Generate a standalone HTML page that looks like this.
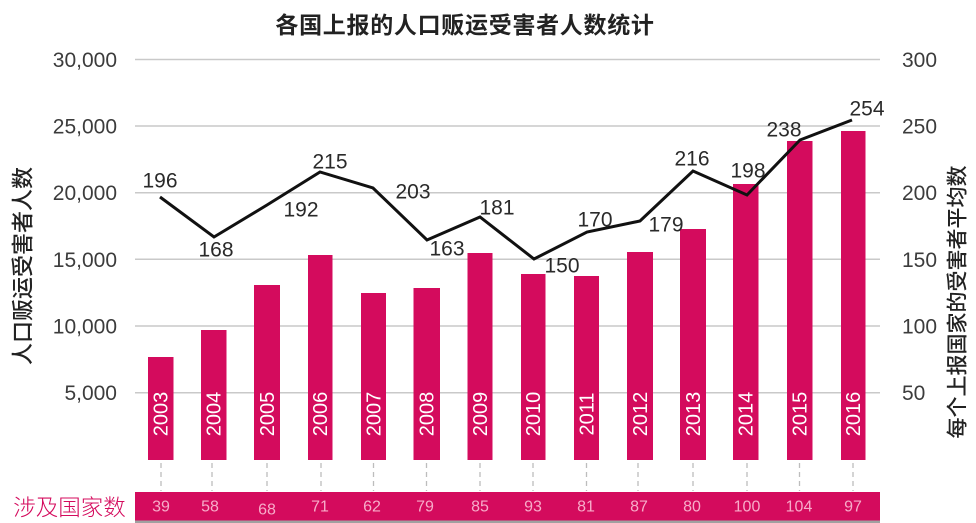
<!DOCTYPE html>
<html>
<head>
<meta charset="utf-8">
<style>
  html,body{margin:0;padding:0;background:#fff;}
  svg{display:block;}
  .tick{font-family:"Liberation Sans","DejaVu Sans",sans-serif;font-size:21px;fill:#3c3c3c;}
  .dl{font-family:"Liberation Sans","DejaVu Sans",sans-serif;font-size:21px;fill:#2a2a2a;}
  .yr{font-family:"Liberation Sans","DejaVu Sans",sans-serif;font-size:20px;fill:#ffffff;}
  .bn{font-family:"Liberation Sans","DejaVu Sans",sans-serif;font-size:16px;fill:#f7acc9;}
  .cjk{font-family:"Liberation Sans","Noto Sans CJK SC","WenQuanYi Zen Hei",sans-serif;}
</style>
</head>
<body>
<svg width="976" height="523" viewBox="0 0 976 523" xmlns="http://www.w3.org/2000/svg">
  <rect x="0" y="0" width="976" height="523" fill="#ffffff"/>
  <!-- title -->
  <text class="cjk" x="465" y="25" text-anchor="middle" dominant-baseline="central" font-size="23" font-weight="bold" letter-spacing="0.7" fill="#222">各国上报的人口贩运受害者人数统计</text>

  <!-- gridlines -->
  <g stroke="#c9c9c9" stroke-width="1.5">
    <line x1="135" y1="59.5" x2="880" y2="59.5"/>
    <line x1="135" y1="126" x2="880" y2="126"/>
    <line x1="135" y1="192.7" x2="880" y2="192.7"/>
    <line x1="135" y1="259.3" x2="880" y2="259.3"/>
    <line x1="135" y1="326" x2="880" y2="326"/>
    <line x1="135" y1="392.7" x2="880" y2="392.7"/>
  </g>

  <!-- left tick labels -->
  <g class="tick" text-anchor="end">
    <text x="117" y="67">30,000</text>
    <text x="117" y="133.5">25,000</text>
    <text x="117" y="200.2">20,000</text>
    <text x="117" y="266.8">15,000</text>
    <text x="117" y="333.5">10,000</text>
    <text x="117" y="400.2">5,000</text>
  </g>
  <!-- right tick labels -->
  <g class="tick" text-anchor="start">
    <text x="902" y="67">300</text>
    <text x="902" y="133.5">250</text>
    <text x="902" y="200.2">200</text>
    <text x="902" y="266.8">150</text>
    <text x="902" y="333.5">100</text>
    <text x="902" y="400.2">50</text>
  </g>

  <!-- axis titles -->
  <text class="cjk" transform="translate(23,266) rotate(-90)" x="0" y="0" text-anchor="middle" dominant-baseline="central" font-size="22" font-weight="500" fill="#222">人口贩运受害者人数</text>
  <text class="cjk" transform="translate(958,302) rotate(-90)" x="0" y="0" text-anchor="middle" dominant-baseline="central" font-size="21" font-weight="500" fill="#222">每个上报国家的受害者平均数</text>

  <!-- bars -->
  <g fill="#d40b5d">
    <rect x="148" y="357" width="25.5" height="103"/>
    <rect x="201" y="330" width="25.5" height="130"/>
    <rect x="254" y="285" width="26" height="175"/>
    <rect x="308" y="255" width="24.5" height="205"/>
    <rect x="361" y="293" width="25" height="167"/>
    <rect x="413.5" y="288" width="26.5" height="172"/>
    <rect x="467.5" y="253" width="25" height="207"/>
    <rect x="521" y="274" width="24.5" height="186"/>
    <rect x="574" y="276" width="25" height="184"/>
    <rect x="627" y="252" width="26" height="208"/>
    <rect x="680" y="229" width="26" height="231"/>
    <rect x="733" y="184" width="25.5" height="276"/>
    <rect x="787" y="141" width="25.5" height="319"/>
    <rect x="841" y="131" width="24.5" height="329"/>
  </g>

  <!-- year labels -->
  <g class="yr" text-anchor="middle">
    <text transform="translate(160.5,414) rotate(-90)" x="0" y="7.2">2003</text>
    <text transform="translate(213.5,414) rotate(-90)" x="0" y="7.2">2004</text>
    <text transform="translate(267,414) rotate(-90)" x="0" y="7.2">2005</text>
    <text transform="translate(320,414) rotate(-90)" x="0" y="7.2">2006</text>
    <text transform="translate(373.5,414) rotate(-90)" x="0" y="7.2">2007</text>
    <text transform="translate(426.5,414) rotate(-90)" x="0" y="7.2">2008</text>
    <text transform="translate(480,414) rotate(-90)" x="0" y="7.2">2009</text>
    <text transform="translate(533,414) rotate(-90)" x="0" y="7.2">2010</text>
    <text transform="translate(586.5,414) rotate(-90)" x="0" y="7.2">2011</text>
    <text transform="translate(640,414) rotate(-90)" x="0" y="7.2">2012</text>
    <text transform="translate(693,414) rotate(-90)" x="0" y="7.2">2013</text>
    <text transform="translate(745.5,414) rotate(-90)" x="0" y="7.2">2014</text>
    <text transform="translate(799.5,414) rotate(-90)" x="0" y="7.2">2015</text>
    <text transform="translate(853,414) rotate(-90)" x="0" y="7.2">2016</text>
  </g>

  <!-- line -->
  <polyline fill="none" stroke="#111" stroke-width="3" stroke-linejoin="miter"
    points="160,197 214,237 267,205 320,172 373,188 427,240 480,217 534,259 587,232 640,221 693,171 747,195 800,140 852,120"/>

  <!-- data labels -->
  <g class="dl" text-anchor="middle">
    <text x="160" y="187.5">196</text>
    <text x="216" y="256.5">168</text>
    <text x="301" y="216.5">192</text>
    <text x="330" y="168.5">215</text>
    <text x="413" y="198.5">203</text>
    <text x="447" y="255.5">163</text>
    <text x="497" y="214.5">181</text>
    <text x="562" y="272.5">150</text>
    <text x="595" y="226.5">170</text>
    <text x="666" y="231.5">179</text>
    <text x="692" y="165.5">216</text>
    <text x="748" y="177.5">198</text>
    <text x="784" y="136.5">238</text>
    <text x="867" y="115.5">254</text>
  </g>

  <!-- dashed connectors -->
  <g stroke="#bdbdbd" stroke-width="1.3" stroke-dasharray="5 4">
    <line x1="161" y1="463" x2="161" y2="491"/>
    <line x1="212" y1="463" x2="212" y2="491"/>
    <line x1="267" y1="463" x2="267" y2="491"/>
    <line x1="321" y1="463" x2="321" y2="491"/>
    <line x1="373.5" y1="463" x2="373.5" y2="491"/>
    <line x1="426.5" y1="463" x2="426.5" y2="491"/>
    <line x1="480" y1="463" x2="480" y2="491"/>
    <line x1="533" y1="463" x2="533" y2="491"/>
    <line x1="586.5" y1="463" x2="586.5" y2="491"/>
    <line x1="638" y1="463" x2="638" y2="491"/>
    <line x1="693" y1="463" x2="693" y2="491"/>
    <line x1="747" y1="463" x2="747" y2="491"/>
    <line x1="799.5" y1="463" x2="799.5" y2="491"/>
    <line x1="853" y1="463" x2="853" y2="491"/>
  </g>

  <!-- bottom band -->
  <rect x="135" y="492" width="745" height="28.5" fill="#d40b5d"/>
  <rect x="135" y="520.5" width="745" height="2.5" fill="#a0a0a0"/>
  <text class="cjk" x="69.5" y="508" text-anchor="middle" dominant-baseline="central" font-size="22.5" font-weight="300" fill="#d40b5d">涉及国家数</text>
  <g class="bn" text-anchor="middle">
    <text x="161" y="511.7">39</text>
    <text x="210" y="511.7">58</text>
    <text x="267" y="514.5">68</text>
    <text x="320" y="511.7">71</text>
    <text x="372" y="511.7">62</text>
    <text x="425" y="511.7">79</text>
    <text x="480" y="511.7">85</text>
    <text x="533" y="511.7">93</text>
    <text x="586" y="511.7">81</text>
    <text x="639" y="511.7">87</text>
    <text x="692" y="511.7">80</text>
    <text x="747" y="511.7">100</text>
    <text x="799" y="511.7">104</text>
    <text x="853" y="511.7">97</text>
  </g>
</svg>
</body>
</html>
